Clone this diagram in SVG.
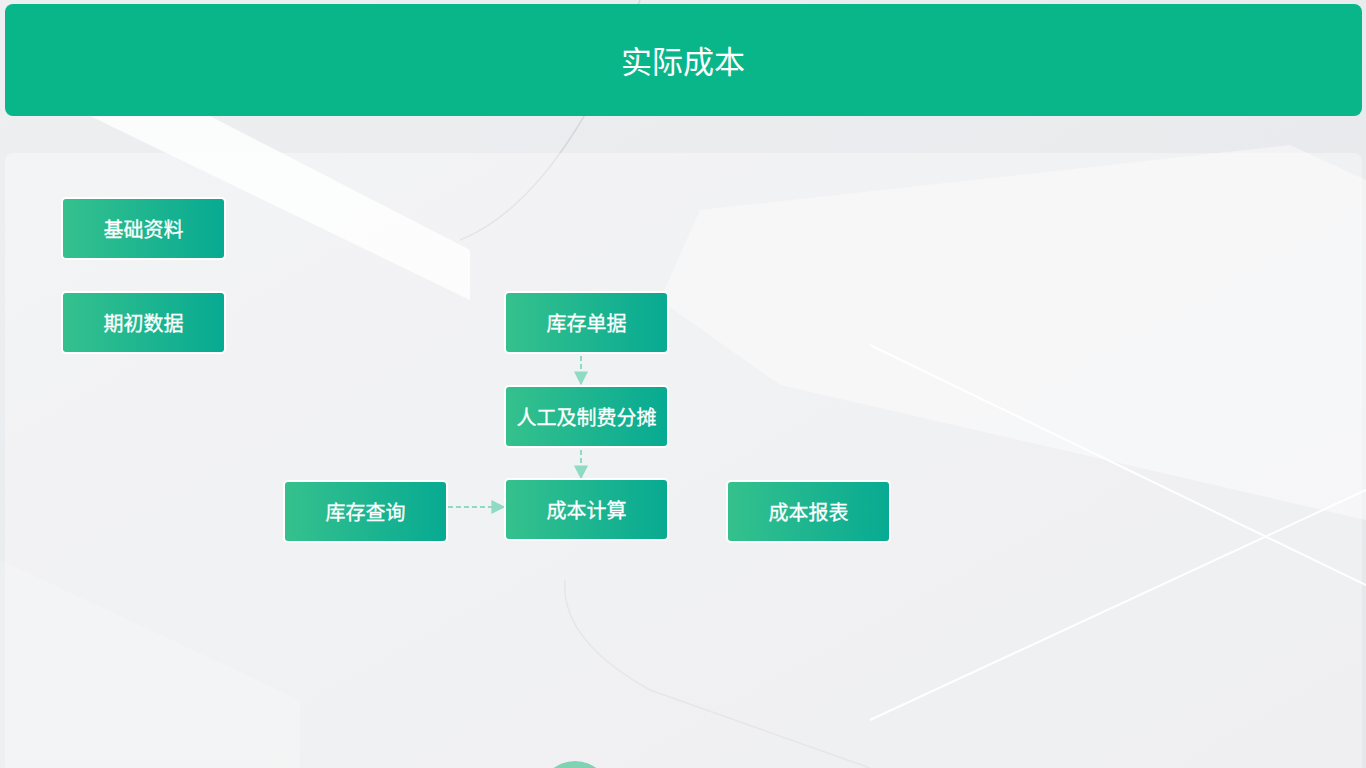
<svg xmlns="http://www.w3.org/2000/svg" width="1366" height="768" viewBox="0 0 1366 768">
<defs>
<linearGradient id="bg" x1="0" y1="0" x2="1" y2="1">
<stop offset="0" stop-color="#eeeff1"/>
<stop offset="1" stop-color="#e6e7ea"/>
</linearGradient>
<linearGradient id="ng" x1="0" y1="0" x2="1" y2="0">
<stop offset="0" stop-color="#35c18d"/>
<stop offset="1" stop-color="#07aa92"/>
</linearGradient>
<marker id="ah" viewBox="0 0 10 10" refX="9" refY="5" markerWidth="14" markerHeight="14" markerUnits="userSpaceOnUse" orient="auto">
<path d="M0,0 L10,5 L0,10 z" fill="#8fdac5"/>
</marker>
<style>
.node rect{fill:url(#ng);stroke:#ffffff;stroke-width:2}
.node text{fill:#ffffff;font-family:"Noto Sans CJK SC","Noto Sans",sans-serif;font-size:20px;font-weight:400;text-anchor:middle;dominant-baseline:central;stroke:#ffffff;stroke-width:0.3}
.conn{stroke:#8fdac5;stroke-width:2;stroke-dasharray:5,3;fill:none;marker-end:url(#ah)}
</style>
</defs>
<rect width="1366" height="768" fill="url(#bg)"/>
<g id="background">
<polygon points="90,116 210,116 470,250 470,300" fill="#ffffff" opacity="0.8"/>
<path d="M460,240 Q560,200 640,0" fill="none" stroke="#d5d6d9" stroke-width="1.5"/>
<polygon points="700,210 1290,145 1366,180 1366,520 780,385 660,300" fill="#f6f7f8" opacity="0.7"/>
<line x1="870" y1="345" x2="1366" y2="585" stroke="#ffffff" stroke-width="2"/>
<line x1="870" y1="720" x2="1366" y2="490" stroke="#ffffff" stroke-width="2"/>
<path d="M565,580 Q560,640 650,690 L870,768" fill="none" stroke="#d8d9dc" stroke-width="1.5"/>
<polygon points="0,560 300,700 300,768 0,768" fill="#f3f4f5" opacity="0.4"/>
</g>
<rect x="5" y="153" width="1357" height="620" rx="8" fill="#ffffff" opacity="0.35"/>
<g id="header">
<rect x="5" y="4" width="1357" height="112" rx="8" fill="#08b68a"/>
<text x="683" y="59" fill="#ffffff" font-family="'Noto Sans CJK SC','Noto Sans',sans-serif" font-size="31" font-weight="400" text-anchor="middle" dominant-baseline="central">实际成本</text>
</g>
<circle cx="575" cy="797" r="36" fill="#7fd3b3"/>
<g id="connectors">
<line class="conn" x1="581" y1="356" x2="581" y2="384"/>
<line class="conn" x1="581" y1="450" x2="581" y2="478"/>
<line class="conn" x1="448" y1="507" x2="504" y2="507"/>
</g>
<g id="n1" class="node"><rect x="62" y="198" width="163" height="61" rx="4"/><text x="143.5" y="228.5">基础资料</text></g>
<g id="n2" class="node"><rect x="62" y="292" width="163" height="61" rx="4"/><text x="143.5" y="322.5">期初数据</text></g>
<g id="n3" class="node"><rect x="505" y="292" width="163" height="61" rx="4"/><text x="586.5" y="322.5">库存单据</text></g>
<g id="n4" class="node"><rect x="505" y="386" width="163" height="61" rx="4"/><text x="586.5" y="416.5">人工及制费分摊</text></g>
<g id="n5" class="node"><rect x="284" y="481" width="163" height="61" rx="4"/><text x="365.5" y="511.5">库存查询</text></g>
<g id="n6" class="node"><rect x="505" y="479" width="163" height="61" rx="4"/><text x="586.5" y="509.5">成本计算</text></g>
<g id="n7" class="node"><rect x="727" y="481" width="163" height="61" rx="4"/><text x="808.5" y="511.5">成本报表</text></g>
</svg>
